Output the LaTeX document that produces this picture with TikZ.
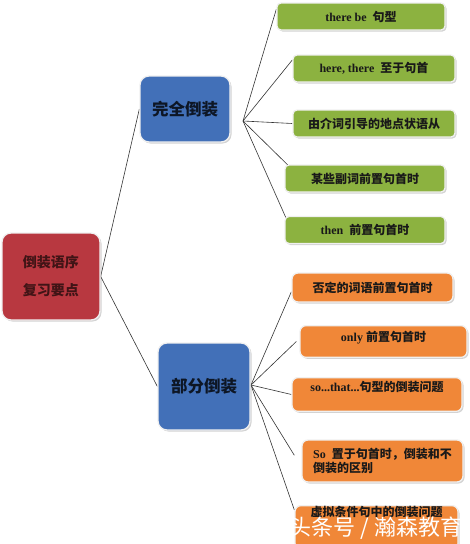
\documentclass[tikz,border=0pt]{standalone}
\usepackage{fontspec}
\setmainfont{Liberation Serif}
\newfontfamily\cjk{Noto Sans CJK SC}
\usetikzlibrary{shadows,backgrounds}
\definecolor{RootClr}{rgb}{0.72,0.22,0.25}
\definecolor{MainClr}{rgb}{0.26,0.44,0.72}
\definecolor{LeafGClr}{rgb}{0.55,0.70,0.25}
\definecolor{LeafOClr}{rgb}{0.94,0.53,0.22}
\definecolor{TextClr}{rgb}{0.10,0.10,0.10}
\newcommand{\zh}[1]{{\cjk\bfseries #1}}

\begin{document}
\begin{tikzpicture}[x=1pt,y=-1pt,
  BoxBase/.style={rectangle,draw=white!88!gray,line width=1.3pt,
    drop shadow={opacity=0.35,shadow xshift=1.5pt,shadow yshift=-1.5pt},
    text=TextClr,font=\bfseries\fontsize{12}{14}\selectfont},
  RootBox/.style={BoxBase,fill=RootClr,rounded corners=9pt,align=center,
    text=RootClr!35!black,font=\fontsize{14}{28}\selectfont},
  MainBox/.style={BoxBase,fill=MainClr,rounded corners=9pt,
    text=MainClr!20!black,font=\fontsize{16.5}{19}\selectfont},
  GreenBox/.style={BoxBase,fill=LeafGClr,rounded corners=4pt,minimum height=27pt},
  OrangeBox/.style={BoxBase,fill=LeafOClr,rounded corners=6pt},
  Link/.style={draw=black!80,line width=0.6pt}]
\useasboundingbox (0,0) rectangle (469,544);

% root and the two branches
\node[RootBox,minimum width=98pt,minimum height=87pt] (root) at (51,276.5)
  {\zh{倒装语序}\\\zh{复习要点}};
\node[MainBox,minimum width=90pt,minimum height=66pt] (full) at (185,109) {\zh{完全倒装}};
\node[MainBox,minimum width=92pt,minimum height=87pt] (part) at (204,386.5) {\zh{部分倒装}};
\coordinate (hubA) at (243,121);
\coordinate (hubB) at (251,385);

% complete inversion
\node[GreenBox,minimum width=168pt] (thereBe) at (361,16.5) {there be\ \ \zh{句型}};
\node[GreenBox,minimum width=162pt] (hereThere) at (374,68.5) {here, there\ \ \zh{至于句首}};
\node[GreenBox,minimum width=162pt] (place) at (374,123.5) {\zh{由介词引导的地点状语从}};
\node[GreenBox,minimum width=160pt] (adverb) at (365,178.5) {\zh{某些副词前置句首时}};
\node[GreenBox,minimum width=160pt] (thenW) at (365,230) {then\ \ \zh{前置句首时}};

% partial inversion
\node[OrangeBox,minimum width=161pt,minimum height=29pt] (negW) at (372.5,287.5) {\zh{否定的词语前置句首时}};
\node[OrangeBox,anchor=north,minimum width=167pt,text height=13pt,text depth=12pt] (onlyW) at (383.5,325)
  {only \zh{前置句首时}};
\node[OrangeBox,anchor=north,minimum width=170pt,text height=11pt,text depth=16pt] (soThat) at (377,377)
  {so...that...\zh{句型的倒装问题}};
\node[OrangeBox,minimum width=161pt,minimum height=42pt,align=left] (soW) at (382.5,461)
  {So\ \ \zh{置于句首时，倒装和不}\\\zh{倒装的区别}};
\node[OrangeBox,anchor=north,minimum width=163pt,text height=8pt,text depth=29pt] (ifW) at (376.5,505)
  {\zh{虚拟条件句中的倒装问题}};

\node[text=white,font=\cjk\fontsize{22}{24}\selectfont] (mark) at (376,528) {头条号 / 瀚森教育};

\begin{pgfonlayer}{background}
\draw[Link] (root.east) -- (full.west);
\draw[Link] (root.east) -- (part.west);
\draw[Link] (hubA) -- (thereBe.175);
\draw[Link] (hubA) -- (hereThere.174);
\draw[Link] (hubA) -- (place.west);
\draw[Link] (hubA) -- ([xshift=10pt]adverb.175);
\draw[Link] (hubA) -- ([xshift=7pt]thenW.west);
\draw[Link] (hubB) -- (negW.183);
\draw[Link] (hubB) -- ([xshift=-3pt]onlyW.west);
\draw[Link] (hubB) -- (soThat.west);
\draw[Link] (hubB) -- ([xshift=-7pt]soW.176);
\draw[Link] (hubB) -- (ifW.168);
\end{pgfonlayer}
\end{tikzpicture}
\end{document}
